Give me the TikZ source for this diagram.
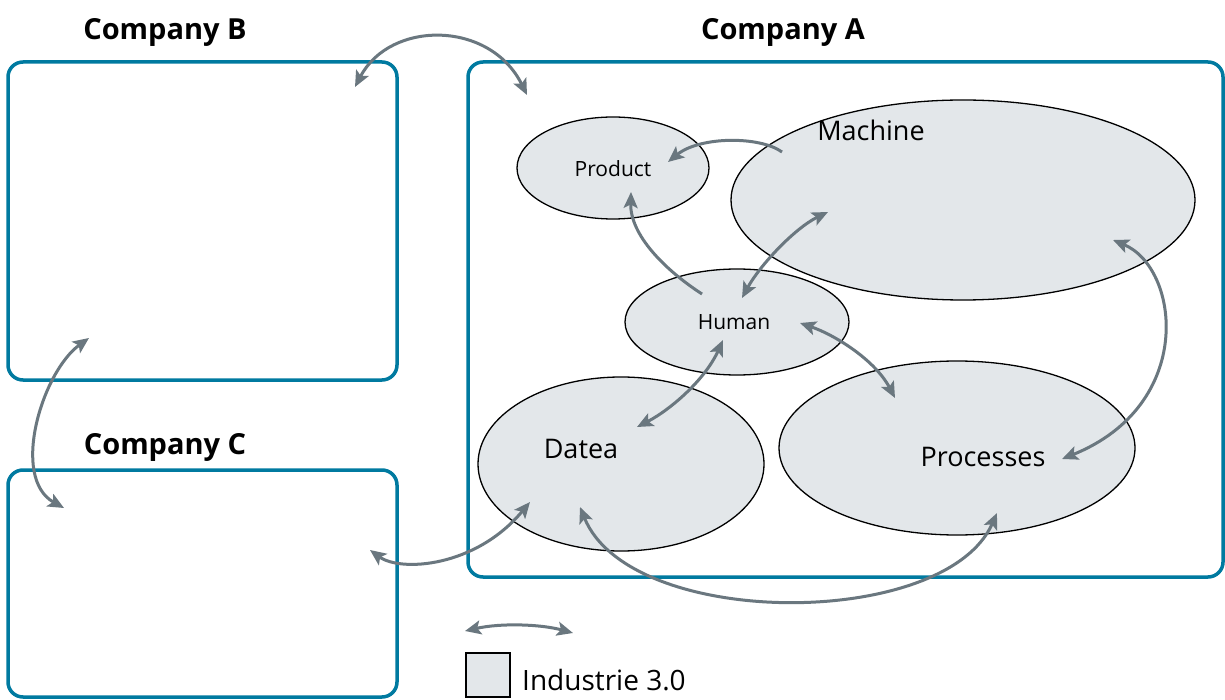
\documentclass[tikz,border=0pt]{standalone}
\usepackage{fontspec}
\setmainfont{Open Sans}
\usetikzlibrary{arrows.meta,shapes.geometric}
\definecolor{boxblue}{RGB}{0,122,160}
\definecolor{arrgrey}{RGB}{106,119,127}
\definecolor{ellfill}{RGB}{227,231,234}
\begin{document}
\begin{tikzpicture}[x=1pt,y=-1pt,
  cbox/.style={draw=boxblue,line width=3.5pt,rounded corners=15pt,inner sep=0pt},
  ell/.style={ellipse,draw=black,line width=1.3pt,fill=ellfill,inner sep=0pt},
  title/.style={font=\fontsize{29}{34}\selectfont\bfseries,anchor=base,inner sep=0pt},
  lab/.style={font=\fontsize{27}{32}\selectfont,anchor=base,inner sep=0pt},
  slab/.style={font=\fontsize{21}{25}\selectfont,anchor=base,inner sep=0pt},
  conn/.style={draw=arrgrey,line width=3pt},
  >={Stealth[length=16pt,width=14pt,inset=3.5pt]}]
\useasboundingbox (0,0) rectangle (1225,700);
\clip (0,0) rectangle (1225,700);
\fill[white] (0,0) rectangle (1225,700);

% company boxes
\node[cbox,minimum width=389pt,minimum height=318pt] (boxB) at (202.5,221) {};
\node[cbox,minimum width=755pt,minimum height=515pt] (boxA) at (845.5,319.5) {};
\node[cbox,minimum width=389pt,minimum height=227pt] (boxC) at (202.5,583.5) {};

% titles
\node[title] (tB) at (165,40) {Company B};
\node[title] (tA) at (783,40) {Company A};
\node[title] (tC) at (165,454) {Company C};

% ellipses
\node[ell,minimum width=192pt,minimum height=102pt] (prod) at (613,168) {};
\node[ell,minimum width=464pt,minimum height=200pt] (mach) at (963,200) {};
\node[ell,minimum width=224pt,minimum height=106pt] (hum) at (737,322) {};
\node[ell,minimum width=286pt,minimum height=174pt] (dat) at (621,464) {};
\node[ell,minimum width=356pt,minimum height=174pt] (proc) at (957,448) {};

% labels
\node[lab] (lmach) at (871,141) {Machine};
\node[slab] (lprod) at (613,177) {Product};
\node[slab] (lhum) at (734,330) {Human};
\node[lab] (ldat) at (581,458) {Datea};
\node[lab] (lproc) at (983,466) {Processes};

% connector end points
\coordinate (cB1) at (355,87);
\coordinate (cA1) at (527,95);
\coordinate (m1) at (782,152);
\coordinate (p1) at (668,162);
\coordinate (h1) at (702,294);
\coordinate (p2) at (631,192);
\coordinate (h2) at (742,298);
\coordinate (m2) at (828,212);
\coordinate (m3) at (1113,240);
\coordinate (pr1) at (1062,459);
\coordinate (h3) at (800,323);
\coordinate (pr2) at (895,398);
\coordinate (h4) at (723,340);
\coordinate (d1) at (637,427);
\coordinate (cC1) at (370,550);
\coordinate (d2) at (530,502);
\coordinate (d3) at (580,507);
\coordinate (pr3) at (997,513);
\coordinate (cB2) at (89,338);
\coordinate (cC2) at (64,508);
\coordinate (l1) at (465,631);
\coordinate (l2) at (573,633);

% connectors
\draw[conn,<->] (cB1) .. controls (390,20) and (490,20) .. (cA1);
\draw[conn,->] (m1) .. controls (760,136) and (700,136) .. (p1);
\draw[conn,->] (h1) .. controls (665,270) and (630,235) .. (p2);
\draw[conn,<->] (h2) .. controls (760,265) and (795,228) .. (m2);
\draw[conn,<->] (m3) .. controls (1180,268) and (1196,405) .. (pr1);
\draw[conn,<->] (h3) .. controls (835,335) and (875,360) .. (pr2);
\draw[conn,<->] (h4) .. controls (705,380) and (670,410) .. (d1);
\draw[conn,<->] (cC1) .. controls (400,572) and (475,568) .. (d2);
\draw[conn,<->] (d3) .. controls (630,630) and (945,630) .. (pr3);
\draw[conn,<->] (cB2) .. controls (42,372) and (10,478) .. (cC2);
\draw[conn,<->] (l1) .. controls (500,623) and (540,624) .. (l2);

% legend
\node[draw=black,line width=1.5pt,fill=ellfill,minimum size=44pt,inner sep=0pt] (leg) at (488,675) {};
\node[font=\fontsize{28}{33}\selectfont,anchor=base west,inner sep=0pt] (legt) at (522,690) {Industrie 3.0};
\end{tikzpicture}
\end{document}
